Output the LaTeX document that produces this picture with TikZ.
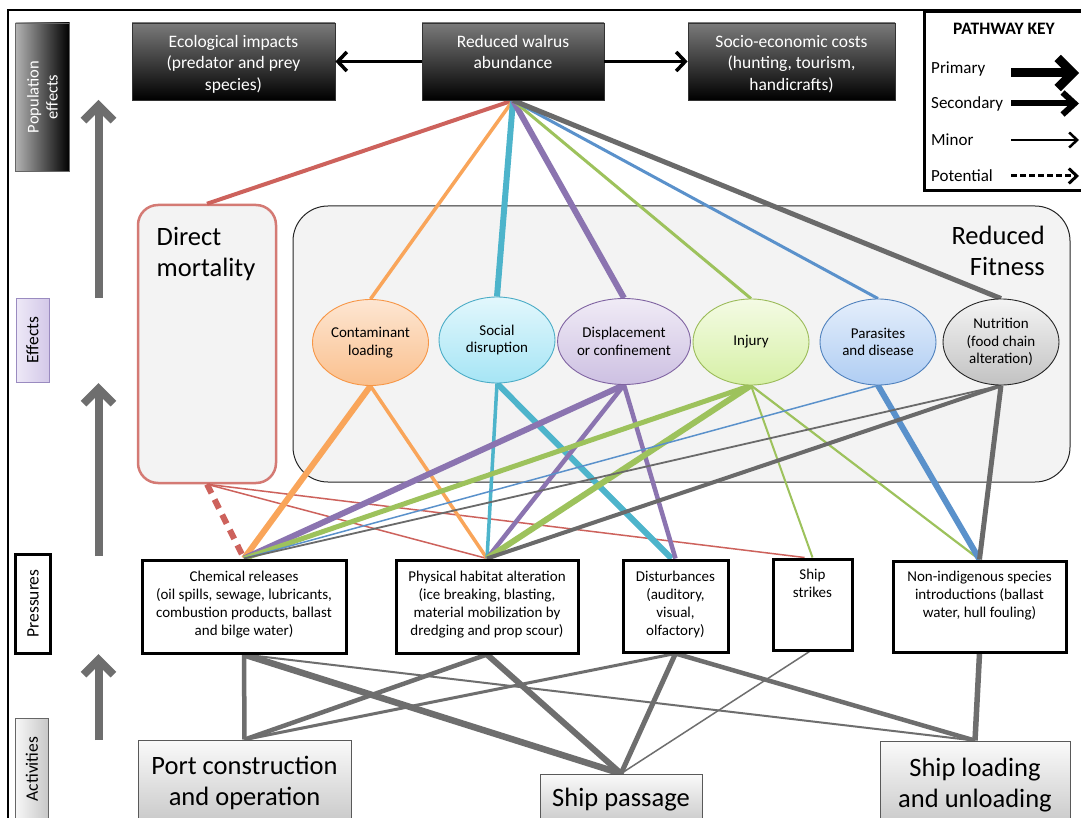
\documentclass[tikz,border=0pt]{standalone}
\usepackage{fontspec}
\setmainfont{Carlito}
\usetikzlibrary{shapes.geometric,arrows.meta}
\pgfdeclarelayer{back}
\pgfdeclarelayer{mid}
\pgfsetlayers{back,mid,main}
\definecolor{cRed}{HTML}{CD625C}
\definecolor{cOrange}{HTML}{F9A55A}
\definecolor{cCyan}{HTML}{4DB4CB}
\definecolor{cPurple}{HTML}{8B74B0}
\definecolor{cGreen}{HTML}{9DC25C}
\definecolor{cBlue}{HTML}{5A91CB}
\definecolor{cGray}{HTML}{6A6A6A}
\definecolor{bGray}{HTML}{6E6E6E}
\definecolor{panel}{HTML}{F3F3F3}
\definecolor{oTop}{HTML}{FDE6D2}\definecolor{oBot}{HTML}{FAC08E}\definecolor{oLine}{HTML}{F79646}
\definecolor{sTop}{HTML}{E2F7FC}\definecolor{sBot}{HTML}{A6E5F5}\definecolor{sLine}{HTML}{4BACC6}
\definecolor{dTop}{HTML}{F0EBF6}\definecolor{dBot}{HTML}{CDC0E2}\definecolor{dLine}{HTML}{8064A2}
\definecolor{iTop}{HTML}{F4FBE4}\definecolor{iBot}{HTML}{D6F0A6}\definecolor{iLine}{HTML}{9BBB59}
\definecolor{pTop}{HTML}{E4EEFB}\definecolor{pBot}{HTML}{AFCDF3}\definecolor{pLine}{HTML}{4F81BD}
\definecolor{nTop}{HTML}{F4F4F4}\definecolor{nBot}{HTML}{C2C2C2}
\definecolor{eTop}{HTML}{EEE9F7}\definecolor{eBot}{HTML}{D3C8E8}\definecolor{eLine}{HTML}{9A8BC0}
\newcommand\fs[2]{\fontsize{#1}{#2}\selectfont}
\newcommand\toptxt[3]{\parbox[c][#1][t]{#2}{\centering #3}}
\newcommand\vtxt[2]{\rotatebox{90}{\parbox{#1}{\centering #2}}}
\begin{document}
\begin{tikzpicture}[x=1pt,y=-1pt,
  topbox/.style={draw=black!80,line width=0.8pt,top color=black!52,bottom color=black,text=white,inner sep=0pt,minimum height=77pt,font=\fs{17.5}{21.5}},
  ell/.style={ellipse,line width=0.9pt,minimum width=116pt,minimum height=86pt,inner sep=0pt,align=center,font=\fs{15}{17.5}},
  pbox/.style={draw=black,line width=3pt,fill=white,inner sep=0pt,font=\fs{15}{18}},
  abox/.style={draw=black!65,line width=0.8pt,top color=black!2,bottom color=black!22,inner sep=0pt,align=center,font=\fs{26.5}{31}},
  side/.style={inner sep=0pt,font=\fs{17.5}{19}},
  uparrow/.style={draw=black!57,line width=8pt,-{Straight Barb[length=15pt,width=30pt]}},
  toparrow/.style={draw=black,line width=3.5pt,-{Straight Barb[length=9pt,width=19pt]}},
  klabel/.style={anchor=west,inner sep=0pt,font=\fs{17}{19}},
  bigtext/.style={inner sep=0pt,font=\fs{26.5}{31}},
]
\useasboundingbox (0,0) rectangle (1081,818);

% back layer panels
\begin{pgfonlayer}{back}
\fill[white] (0,0) rectangle (1081,818);
\node[draw=black!85,line width=1pt,fill=panel,rounded corners=35pt,minimum width=777pt,minimum height=276pt] (RF) at (681.5,344) {};
\node[bigtext,anchor=north east,align=right] (RFt) at (1045,226) {Reduced\\Fitness};
\node[draw=cRed!85,line width=2.5pt,fill=panel,rounded corners=20pt,minimum width=138pt,minimum height=278pt] (DM) at (207,344) {};
\node[bigtext,anchor=north west,align=left] (DMt) at (156.5,227) {Direct\\mortality};
\end{pgfonlayer}

% outer frame
\draw[line width=2pt] (8,10) rectangle (1100,840);

% population effects
\node[topbox,minimum width=203pt] (EC) at (233.5,61.5) {\toptxt{53pt}{198pt}{Ecological impacts\\(predator and prey\\species)}};
\node[topbox,minimum width=182pt] (WA) at (513,61.5) {\toptxt{53pt}{178pt}{Reduced walrus\\abundance}};
\node[topbox,minimum width=207pt] (SE) at (791.5,61.5) {\toptxt{53pt}{202pt}{Socio-economic costs\\(hunting, tourism,\\handicrafts)}};
\draw[toparrow] (WA.west) -- (EC.east);
\draw[toparrow] (WA.east) -- (SE.west);

% effects ellipses
\node[ell,draw=oLine,top color=oTop,bottom color=oBot] (CL) at (370.5,342.5) {Contaminant\\loading};
\node[ell,draw=sLine,top color=sTop,bottom color=sBot] (SD) at (497,340) {Social\\disruption};
\node[ell,draw=dLine,top color=dTop,bottom color=dBot] (DC) at (624,341.5) {Displacement\\or confinement};
\node[ell,draw=iLine,top color=iTop,bottom color=iBot] (IN) at (751,342) {Injury};
\node[ell,draw=pLine,top color=pTop,bottom color=pBot] (PD) at (878,342) {Parasites\\and disease};
\node[ell,draw=black!85,top color=nTop,bottom color=nBot] (NU) at (1001,342) {Nutrition\\(food chain\\alteration)};

% pressures
\node[pbox,minimum width=204pt,minimum height=93pt] (CR) at (244,606.5) {\toptxt{70pt}{200pt}{Chemical releases\\(oil spills, sewage, lubricants,\\combustion products, ballast\\and bilge water)}};
\node[pbox,minimum width=182pt,minimum height=93pt] (PH) at (487,606.5) {\toptxt{70pt}{178pt}{Physical habitat alteration\\(ice breaking, blasting,\\material mobilization by\\dredging and prop scour)}};
\node[pbox,minimum width=105pt,minimum height=92pt] (DI) at (675.5,606) {\toptxt{70pt}{101pt}{Disturbances\\(auditory,\\visual,\\olfactory)}};
\node[pbox,minimum width=79pt,minimum height=91pt] (SS) at (812.5,604.5) {\toptxt{70pt}{75pt}{Ship\\strikes}};
\node[pbox,minimum width=173pt,minimum height=91pt] (NI) at (979.5,606.5) {\toptxt{70pt}{169pt}{Non-indigenous species\\introductions (ballast\\water, hull fouling)}};

% activities
\node[abox,minimum width=213pt,minimum height=86pt] (PC) at (244.5,783) {Port construction\\and operation};
\node[abox,minimum width=162pt,minimum height=52pt] (SP) at (621,800) {Ship passage};
\node[abox,minimum width=190pt,minimum height=88pt] (SL) at (975,785) {Ship loading\\and unloading};

% connectors
\begin{pgfonlayer}{mid}
\draw[cRed,line width=4pt] (WA.south) -- (DM.north);
\draw[cOrange,line width=3.5pt] (WA.south) -- (CL.north);
\draw[cCyan,line width=6pt] (WA.south) -- (SD.north);
\draw[cPurple,line width=6pt] (WA.south) -- (DC.north);
\draw[cGreen,line width=3pt] (WA.south) -- (IN.north);
\draw[cBlue,line width=3pt] (WA.south) -- (PD.north);
\draw[cGray,line width=5pt] (WA.south) -- (NU.north);

\draw[cRed,line width=6pt,dash pattern=on 10pt off 7pt] (DM.south) -- (CR.north);
\draw[cRed,line width=1.5pt] (DM.south) -- (PH.north);
\draw[cRed,line width=1.5pt] (DM.south) -- ([xshift=-8pt]SS.north);

\draw[cOrange,line width=6pt] (CL.south) -- (CR.north);
\draw[cOrange,line width=3.5pt] (CL.south) -- (PH.north);

\draw[cCyan,line width=3.5pt] (SD.south) -- (PH.north);
\draw[cCyan,line width=6pt] (SD.south) -- ([xshift=-4pt]DI.north);

\draw[cPurple,line width=6pt] (DC.south) -- (CR.north);
\draw[cPurple,line width=4.5pt] (DC.south) -- (PH.north);
\draw[cPurple,line width=4.5pt] (DC.south) -- (DI.north);

\draw[cGreen,line width=5pt] (IN.south) -- (CR.north);
\draw[cGreen,line width=6pt] (IN.south) -- (PH.north);
\draw[cGreen,line width=2pt] (IN.south) -- (SS.north);
\draw[cGreen,line width=2.2pt] (IN.south) -- (NI.north);

\draw[cBlue,line width=1.5pt] (PD.south) -- (CR.north);
\draw[cBlue,line width=6pt] (PD.south) -- (NI.north);

\draw[cGray,line width=1.8pt] (NU.south) -- (CR.north);
\draw[cGray,line width=4pt] (NU.south) -- (PH.north);
\draw[cGray,line width=5pt] (NU.south) -- (NI.north);

\draw[bGray,line width=4.5pt] (CR.south) -- (PC.north);
\draw[bGray,line width=6.5pt] (CR.south) -- (SP.north);
\draw[bGray,line width=2pt] (CR.south) -- (SL.north);
\draw[bGray,line width=4.5pt] (PH.south) -- (PC.north);
\draw[bGray,line width=6pt] (PH.south) -- (SP.north);
\draw[bGray,line width=3pt] (DI.south) -- (PC.north);
\draw[bGray,line width=5pt] (DI.south) -- (SP.north);
\draw[bGray,line width=4.5pt] (DI.south) -- (SL.north);
\draw[bGray,line width=1.5pt] ([xshift=-3pt]SS.south) -- (SP.north);
\draw[bGray,line width=5.5pt] (NI.south) -- (SL.north);
\end{pgfonlayer}

% side labels
\node[side,minimum width=54pt,minimum height=148pt,draw=black!60,line width=0.8pt,left color=black!30,right color=black,text=white,font=\fs{16.5}{19}] (LPO) at (42.5,97) {\vtxt{140pt}{Population\\effects}};
\node[side,minimum width=33pt,minimum height=84pt,draw=eLine,line width=0.8pt,left color=eTop,right color=eBot] (LEF) at (32.5,340) {\vtxt{80pt}{Effects}};
\node[side,minimum width=35.5pt,minimum height=99pt,draw=black,line width=3pt,fill=white] (LPR) at (33,603.5) {\vtxt{95pt}{Pressures}};
\node[side,minimum width=33.5pt,minimum height=101pt,draw=black!60,line width=0.8pt,left color=black!3,right color=black!22] (LAC) at (32,769) {\vtxt{97pt}{Activities}};

% upward arrows
\coordinate (u1a) at (98.5,298); \coordinate (u1b) at (98.5,100);
\coordinate (u2a) at (98.5,556); \coordinate (u2b) at (98.5,383);
\coordinate (u3a) at (98.5,740); \coordinate (u3b) at (98.5,654);
\draw[uparrow] (u1a) -- (u1b);
\draw[uparrow] (u2a) -- (u2b);
\draw[uparrow] (u3a) -- (u3b);

% pathway key
\node[draw=black,line width=3pt,fill=white,minimum width=176pt,minimum height=179pt,anchor=north west,inner sep=0pt] (KEY) at (923,10) {};
\node[inner sep=0pt,font=\bfseries\fs{17.5}{19}] (KT) at (1004,29) {PATHWAY KEY};
\node[klabel] (K1) at (931,69) {Primary};
\node[klabel] (K2) at (931,103.5) {Secondary};
\node[klabel] (K3) at (931,140) {Minor};
\node[klabel] (K4) at (931,176) {Potential};
\coordinate (k1a) at (1011,73); \coordinate (k1b) at (1079,73);
\coordinate (k2a) at (1011,103.5); \coordinate (k2b) at (1079,103.5);
\coordinate (k3a) at (1011,140); \coordinate (k3b) at (1079,140);
\coordinate (k4a) at (1011,176); \coordinate (k4b) at (1079,176);
\draw[line width=9pt,-{Straight Barb[length=15pt,width=30pt]}] (k1a) -- (k1b);
\draw[line width=6pt,-{Straight Barb[length=12pt,width=22pt]}] (k2a) -- (k2b);
\draw[line width=2.5pt,-{Straight Barb[length=8pt,width=15pt]}] (k3a) -- (k3b);
\draw[line width=3pt,dash pattern=on 6pt off 3pt,-{Straight Barb[length=8pt,width=15pt]}] (k4a) -- (k4b);
\end{tikzpicture}
\end{document}
